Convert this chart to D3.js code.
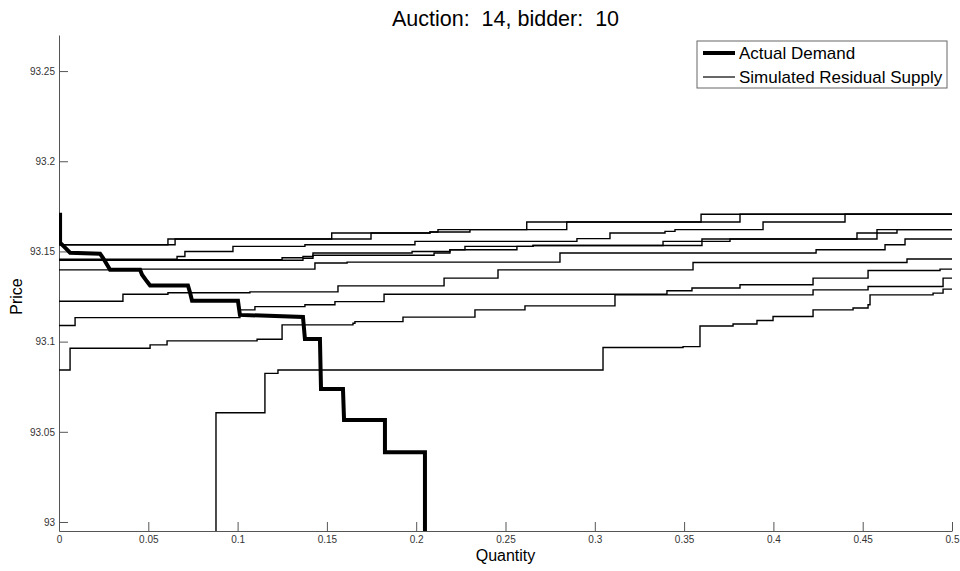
<!DOCTYPE html>
<html>
<head>
<meta charset="utf-8">
<title>Auction 14, bidder 10</title>
<script src="https://d3js.org/d3.v7.min.js"></script>
<style>
  body { margin: 0; background: #fff; }
  svg { display: block; font-family: "Liberation Sans", Arial, sans-serif; }
  .axis path, .axis line { stroke: #555; }
  .axis text { fill: #333; font-size: 10px; }
</style>
</head>
<body>
<svg width="960" height="571"></svg>
<script>
// actual demand of the bidder (quantity, price)
var demandQty   = [0.0006, 0.0006, 0.0034, 0.0062, 0.0230, 0.0246, 0.0286, 0.0454, 0.0465, 0.0493, 0.0510, 0.0722, 0.0734, 0.0745, 0.1002, 0.1013, 0.1366, 0.1377, 0.1461, 0.1467, 0.1590, 0.1596, 0.1825, 0.1825, 0.2049, 0.2049];
var demandPrice = [93.1715, 93.1548, 93.1521, 93.1493, 93.1487, 93.1465, 93.1398, 93.1398, 93.1371, 93.1333, 93.1311, 93.1311, 93.1271, 93.1226, 93.1226, 93.1148, 93.1137, 93.1015, 93.1015, 93.0737, 93.0737, 93.0565, 93.0565, 93.0387, 93.0387, 92.990];

// simulated residual supply curves, [quantity, price] at each step
var supply1  = [[0, 93.1537], [0.0610, 93.1569], [0.1527, 93.1602], [0.2077, 93.1608], [0.2122, 93.1621], [0.2619, 93.1663], [0.3595, 93.1706], [0.5, 93.1706]];
var supply2  = [[0, 93.1537], [0.0650, 93.1569], [0.1747, 93.1602], [0.2077, 93.1608], [0.2301, 93.1621], [0.2843, 93.1663], [0.3813, 93.1706], [0.5, 93.1706]];
var supply3  = [[0, 93.1457], [0.0661, 93.1472], [0.0705, 93.1500], [0.0974, 93.1528], [0.1377, 93.1537], [0.1993, 93.1556], [0.2900, 93.1571], [0.3085, 93.1602], [0.3393, 93.1611], [0.3449, 93.1621], [0.3942, 93.1663], [0.4401, 93.1706], [0.5, 93.1706]];
var supply4  = [[0, 93.1454], [0.1249, 93.1465], [0.1366, 93.1472], [0.1422, 93.1491], [0.1977, 93.1500], [0.2189, 93.1509], [0.2273, 93.1528], [0.2654, 93.1533], [0.3382, 93.1556], [0.3600, 93.1569], [0.4468, 93.1602], [0.4580, 93.1621], [0.5, 93.1621]];
var supply5  = [[0, 93.1451], [0.1366, 93.1462], [0.1422, 93.1479], [0.2100, 93.1491], [0.2189, 93.1509], [0.2564, 93.1528], [0.2654, 93.1533], [0.3600, 93.1556], [0.3757, 93.1569], [0.4580, 93.1602], [0.4692, 93.1621], [0.5, 93.1621]];
var supply6  = [[0, 93.1398], [0.0454, 93.1402], [0.1433, 93.1436], [0.1613, 93.1441], [0.2805, 93.1491], [0.4239, 93.1509], [0.4625, 93.1537], [0.4737, 93.1569], [0.5, 93.1569]];
var supply7  = [[0, 93.1224], [0.0358, 93.1263], [0.0610, 93.1271], [0.1069, 93.1276], [0.1562, 93.1309], [0.2156, 93.1352], [0.2458, 93.1398], [0.3550, 93.1439], [0.4748, 93.1458], [0.5, 93.1458]];
var supply8  = [[0, 93.1089], [0.0090, 93.1133], [0.1013, 93.1176], [0.1097, 93.1194], [0.1377, 93.1204], [0.1545, 93.1222], [0.1820, 93.1263], [0.3404, 93.1282], [0.3544, 93.1297], [0.3813, 93.1315], [0.4222, 93.1352], [0.4530, 93.1394], [0.4933, 93.1402], [0.5, 93.1402]];
var supply9  = [[0, 93.0843], [0.0062, 93.0963], [0.0510, 93.0982], [0.0605, 93.1004], [0.1109, 93.1013], [0.1249, 93.1093], [0.1646, 93.1102], [0.1657, 93.1111], [0.1926, 93.1136], [0.2329, 93.1176], [0.2609, 93.1198], [0.3113, 93.1259], [0.4222, 93.1287], [0.4530, 93.1306], [0.4950, 93.1352], [0.5, 93.1352]];
var supply10 = [[0.0879, 92.990], [0.0879, 93.0606], [0.1153, 93.0824], [0.1226, 93.0843], [0.3046, 93.0967], [0.3494, 93.0972], [0.3589, 93.1087], [0.3774, 93.1098], [0.3908, 93.1117], [0.3998, 93.1139], [0.4222, 93.1176], [0.4446, 93.1186], [0.4530, 93.1204], [0.4541, 93.1259], [0.4894, 93.1269], [0.4950, 93.1291], [0.5, 93.1291]];

var supplyCurves = [supply1, supply2, supply3, supply4, supply5, supply6, supply7, supply8, supply9, supply10];

var xTicks = [0, 0.05, 0.1, 0.15, 0.2, 0.25, 0.3, 0.35, 0.4, 0.45, 0.5];
var yTicks = [93, 93.05, 93.1, 93.15, 93.2, 93.25];
var legendLabels = ["Actual Demand", "Simulated Residual Supply"];

var svg = d3.select("svg"),
    margin = {top: 35, right: 8, bottom: 40, left: 59},
    width = +svg.attr("width") - margin.left - margin.right,
    height = +svg.attr("height") - margin.top - margin.bottom;

var x = d3.scaleLinear().domain([0, 0.5]).range([0, width]);
var y = d3.scaleLinear().domain([92.995, 93.27]).range([height, 0]);

var g = svg.append("g").attr("transform", "translate(" + margin.left + "," + margin.top + ")");

g.append("clipPath").attr("id", "plot-clip")
  .append("rect").attr("width", width).attr("height", height);

var fmt = function(d) { return String(+d.toFixed(2)); };

g.append("g").attr("class", "axis")
  .attr("transform", "translate(0," + height + ")")
  .call(d3.axisBottom(x).tickValues(xTicks).tickFormat(fmt).tickSizeInner(-9).tickSizeOuter(0).tickPadding(5));

g.append("g").attr("class", "axis")
  .call(d3.axisLeft(y).tickValues(yTicks).tickFormat(fmt).tickSizeInner(-9).tickSizeOuter(0).tickPadding(4));

var stepLine = d3.line()
  .x(function(d) { return x(d[0]); })
  .y(function(d) { return y(d[1]); })
  .curve(d3.curveStepAfter);

var plot = g.append("g").attr("clip-path", "url(#plot-clip)");

plot.selectAll(".supply")
  .data(supplyCurves)
  .enter().append("path")
  .attr("class", "supply")
  .attr("d", stepLine)
  .attr("fill", "none")
  .attr("stroke", "#000")
  .attr("stroke-width", 1.4);

var demandLine = d3.line()
  .x(function(d, i) { return x(demandQty[i]); })
  .y(function(d, i) { return y(demandPrice[i]); });

plot.append("path")
  .attr("d", demandLine(demandQty))
  .attr("fill", "none")
  .attr("stroke", "#000")
  .attr("stroke-width", 4);

// title and axis labels
svg.append("text")
  .attr("x", margin.left + width / 2)
  .attr("y", 26)
  .attr("text-anchor", "middle")
  .style("font-size", "21.5px")
  .style("white-space", "pre")
  .attr("xml:space", "preserve")
  .text("Auction:  14, bidder:  10");

svg.append("text")
  .attr("x", margin.left + width / 2)
  .attr("y", 561)
  .attr("text-anchor", "middle")
  .style("font-size", "16px")
  .text("Quantity");

svg.append("text")
  .attr("transform", "translate(22," + (margin.top + y(93.125)) + ") rotate(-90)")
  .attr("text-anchor", "middle")
  .style("font-size", "16px")
  .text("Price");

// legend
var legend = svg.append("g").attr("transform", "translate(697,41)");
legend.append("rect")
  .attr("width", 250).attr("height", 47)
  .attr("fill", "#fff").attr("stroke", "#666");

legend.selectAll(".item")
  .data(legendLabels)
  .enter().append("g")
  .attr("transform", function(d, i) { return "translate(0," + (12 + i * 24) + ")"; })
  .each(function(d, i) {
    var item = d3.select(this);
    item.append("line")
      .attr("x1", 6).attr("x2", 38)
      .attr("stroke", "#000")
      .attr("stroke-width", i === 0 ? 4 : 1.2);
    item.append("text")
      .attr("x", 42).attr("dy", "0.36em")
      .style("font-size", "17px")
      .text(d);
  });
</script>
</body>
</html>
